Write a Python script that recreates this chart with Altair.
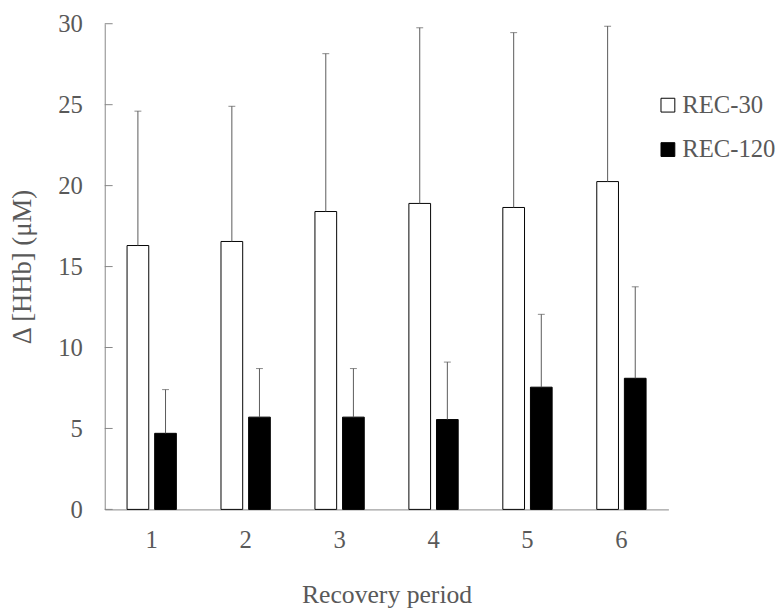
import altair as alt
import pandas as pd

periods = ["1", "2", "3", "4", "5", "6"]
series_order = ["REC-30", "REC-120"]
rec30_mean = [16.3, 16.55, 18.4, 18.9, 18.65, 20.25]
rec30_sd = [8.3, 8.35, 9.75, 10.85, 10.8, 9.6]
rec120_mean = [4.7, 5.7, 5.7, 5.55, 7.55, 8.1]
rec120_sd = [2.7, 3.0, 3.0, 3.55, 4.5, 5.65]
y_ticks = [0, 5, 10, 15, 20, 25, 30]

rows = []
for i, p in enumerate(periods):
    rows.append({"period": p, "series": "REC-30", "mean": rec30_mean[i],
                 "upper": rec30_mean[i] + rec30_sd[i]})
    rows.append({"period": p, "series": "REC-120", "mean": rec120_mean[i],
                 "upper": rec120_mean[i] + rec120_sd[i]})
df = pd.DataFrame(rows)
tick_df = pd.DataFrame({"v": y_ticks})

YTITLE = "Δ [HHb] (μM)"
TXT = "#595959"
AX = "#868686"

yscale = alt.Scale(domain=[0, 30], nice=False, zero=True)
yaxis = alt.Axis(values=y_ticks, grid=False, ticks=False, tickSize=0, domainColor=AX,
                 labelFontSize=25, labelColor=TXT, labelPadding=22.7,
                 titleFontSize=27, titleFontWeight="normal", titleColor=TXT,
                 titlePadding=22)

base = alt.Chart(df).encode(
    x=alt.X("period:N", sort=periods,
            scale=alt.Scale(paddingInner=0.475, paddingOuter=0.2375),
            axis=alt.Axis(labelAngle=0, ticks=False, tickSize=0, domainColor=AX,
                          labelFontSize=25, labelColor=TXT, labelPadding=18.8,
                          title="Recovery period", titleFontSize=26,
                          titleFontWeight="normal", titleColor=TXT, titlePadding=30)),
    xOffset=alt.XOffset("series:N", sort=series_order,
                        scale=alt.Scale(domain=series_order, paddingInner=0.214,
                                        paddingOuter=0)),
)

bars = base.mark_bar(stroke="black", strokeWidth=1).encode(
    y=alt.Y("mean:Q", scale=yscale, axis=yaxis, title=YTITLE),
    fill=alt.Fill("series:N", sort=series_order,
                  scale=alt.Scale(domain=series_order, range=["white", "black"]),
                  legend=alt.Legend(title=None, orient="none", legendX=558, legendY=70,
                                    symbolType="square", symbolSize=196,
                                    symbolStrokeColor="black", symbolStrokeWidth=1,
                                    labelFontSize=25, labelColor=TXT, labelOffset=2,
                                    rowPadding=19, padding=0)),
)

rules = base.mark_rule(color="#595959", strokeWidth=1).encode(
    y=alt.Y("mean:Q", scale=yscale, title=YTITLE),
    y2="upper:Q",
)

caps = base.mark_tick(color="#595959", size=7, thickness=1, orient="horizontal").encode(
    y=alt.Y("upper:Q", scale=yscale, title=YTITLE),
)

yt = alt.Chart(tick_df).mark_rule(color=AX, strokeWidth=1).encode(
    y=alt.Y("v:Q", scale=yscale, title=YTITLE),
    x=alt.value(0),
    x2=alt.value(8),
)

chart = alt.layer(bars, rules, caps, yt).properties(
    width=571, height=492, padding=0
).configure(font="Liberation Serif").configure_view(strokeWidth=0)

chart.save("out.html", embed_options={"renderer": "svg", "actions": False})
